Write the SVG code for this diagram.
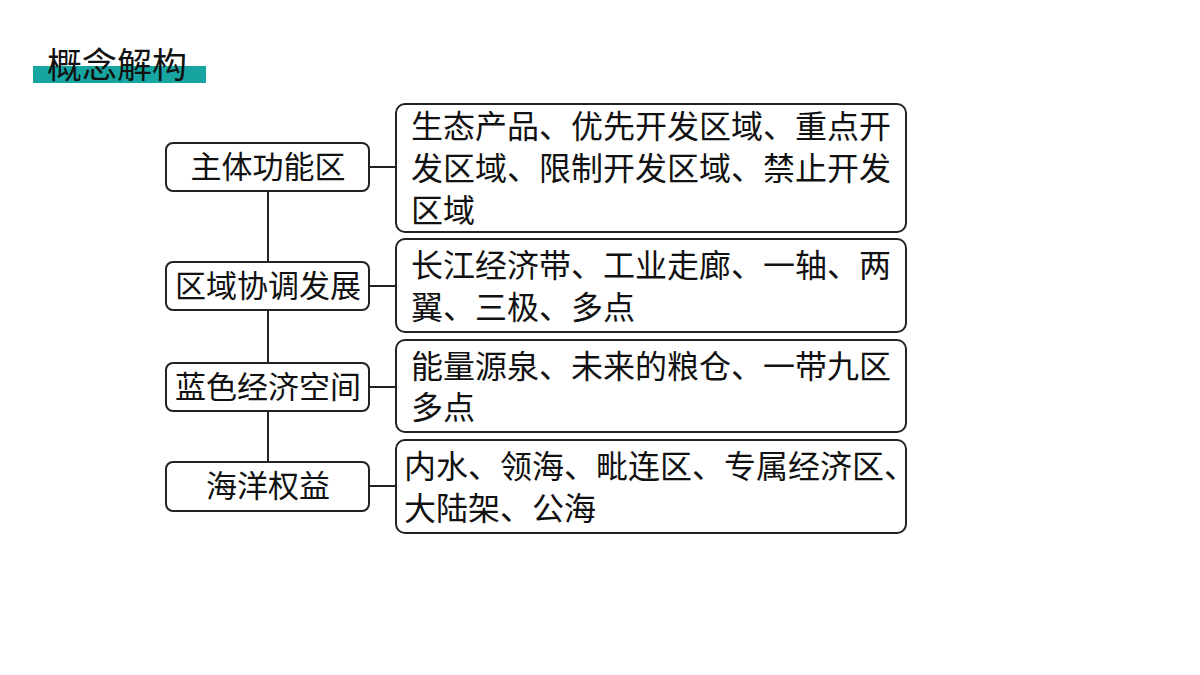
<svg xmlns="http://www.w3.org/2000/svg" width="1200" height="675" viewBox="0 0 1200 675">
<style>
.b{fill:#fff;stroke:#222;stroke-width:2}
.t{font-family:"Noto Sans CJK SC","Noto Sans",sans-serif;font-size:32px;fill:#111}
.s{font-size:31px}
.c{text-anchor:middle}
.l{stroke:#222;stroke-width:2;fill:none}
</style>
<rect width="1200" height="675" fill="#fff"/>
<g id="title"><rect x="33" y="66" width="173" height="17" fill="#16a5a0"/><text x="47" y="78" class="t" style="font-size:35px">概念解构</text></g>
<g id="connectors">
<path class="l" d="M268 191V462M369 167H396M369 286H396M369 387H396M369 486H396"/>
</g>
<g id="n1"><rect class="b" x="166" y="143" width="203" height="48" rx="7"/><text class="t s c" x="268" y="178">主体功能区</text></g>
<g id="n2"><rect class="b" x="166" y="262" width="203" height="48" rx="7"/><text class="t s c" x="268" y="297">区域协调发展</text></g>
<g id="n3"><rect class="b" x="166" y="363" width="203" height="48" rx="7"/><text class="t s c" x="268" y="398">蓝色经济空间</text></g>
<g id="n4"><rect class="b" x="166" y="462" width="203" height="49" rx="7"/><text class="t s c" x="268" y="497">海洋权益</text></g>
<g id="d1"><rect class="b" x="396" y="104" width="510" height="128" rx="9"/><text class="t" x="411" y="138">生态产品、优先开发区域、重点开</text><text class="t" x="411" y="180">发区域、限制开发区域、禁止开发</text><text class="t" x="411" y="222">区域</text></g>
<g id="d2"><rect class="b" x="396" y="239" width="510" height="93" rx="9"/><text class="t" x="411" y="277">长江经济带、工业走廊、一轴、两</text><text class="t" x="411" y="319">翼、三极、多点</text></g>
<g id="d3"><rect class="b" x="396" y="340" width="510" height="92" rx="9"/><text class="t" x="411" y="378">能量源泉、未来的粮仓、一带九区</text><text class="t" x="411" y="419">多点</text></g>
<g id="d4"><rect class="b" x="396" y="440" width="510" height="93" rx="9"/><text class="t" x="404" y="478">内水、领海、毗连区、专属经济区、</text><text class="t" x="404" y="520">大陆架、公海</text></g>
</svg>
